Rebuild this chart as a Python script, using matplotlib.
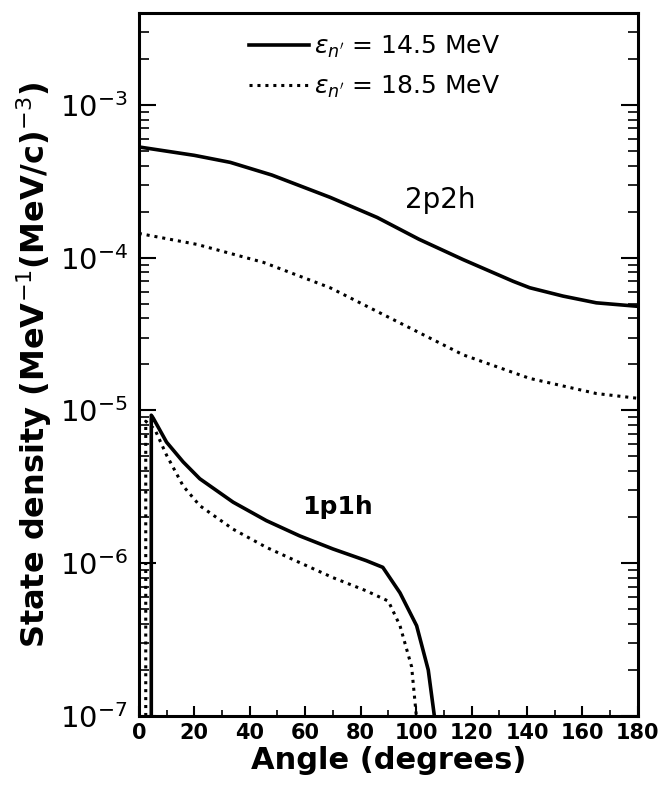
import numpy as np
import matplotlib
matplotlib.use("Agg")
import matplotlib.pyplot as plt
from matplotlib.ticker import LogLocator, LogFormatterMathtext, MultipleLocator, NullFormatter

# 2p2h curves (angle in degrees, state density)
ang_2p2h_a = [0, 20, 33, 48, 69, 86, 101, 117, 135, 141, 153, 165, 180]
rho_2p2h_a = [5.3e-4, 4.67e-4, 4.2e-4, 3.47e-4, 2.48e-4, 1.83e-4, 1.32e-4,
              9.7e-5, 7.0e-5, 6.35e-5, 5.6e-5, 5.06e-5, 4.8e-5]
ang_2p2h_b = [0, 21, 45, 69, 93, 117, 141, 165, 180]
rho_2p2h_b = [1.44e-4, 1.22e-4, 9.3e-5, 6.35e-5, 3.83e-5, 2.31e-5, 1.62e-5,
              1.29e-5, 1.2e-5]

# 1p1h curves
ang_1p1h_a = [4.5, 4.5, 5.2, 10, 16, 22, 34, 46, 58, 70, 82, 88, 94.2, 100.2, 104.4, 106.6]
rho_1p1h_a = [1e-7, 9.3e-6, 8.9e-6, 6.2e-6, 4.6e-6, 3.57e-6, 2.51e-6, 1.9e-6,
              1.51e-6, 1.24e-6, 1.04e-6, 9.4e-7, 6.4e-7, 3.9e-7, 2.0e-7, 1e-7]
ang_1p1h_b = [2.5, 2.5, 5.8, 10, 16, 22, 34, 46, 58, 70, 82, 90, 94.2, 98.4, 100.1]
rho_1p1h_b = [1e-7, 8.5e-6, 7.5e-6, 5.1e-6, 3.2e-6, 2.38e-6, 1.67e-6, 1.27e-6,
              1.01e-6, 8.05e-7, 6.6e-7, 5.65e-7, 3.9e-7, 2.1e-7, 1e-7]

labels = [r"$\varepsilon_{n^{\prime}}$ = 14.5 MeV", r"$\varepsilon_{n^{\prime}}$ = 18.5 MeV"]

fig = plt.figure(figsize=(6.61, 7.91), dpi=100)
ax = fig.add_axes([0.210, 0.0948, 0.755, 0.889])

dot = (0, (1, 1.6))
l1, = ax.plot(ang_2p2h_a, rho_2p2h_a, color="black", lw=2.6)
ax.plot(ang_1p1h_a, rho_1p1h_a, color="black", lw=2.6)
l2, = ax.plot(ang_2p2h_b, rho_2p2h_b, color="black", lw=2.2, ls=dot)
ax.plot(ang_1p1h_b, rho_1p1h_b, color="black", lw=2.2, ls=dot)

ax.set_yscale("log")
ax.set_xlim(0, 180)
ax.set_ylim(1e-7, 4e-3)

ax.xaxis.set_major_locator(MultipleLocator(20))
ax.xaxis.set_minor_locator(MultipleLocator(10))
ax.yaxis.set_major_locator(LogLocator(base=10, numticks=20))
ax.yaxis.set_minor_locator(LogLocator(base=10, subs=np.arange(2, 10), numticks=20))
ax.yaxis.set_major_formatter(LogFormatterMathtext())
ax.yaxis.set_minor_formatter(NullFormatter())

ax.tick_params(axis="x", which="major", direction="in", length=7, width=1.5,
               labelsize=15, pad=5, top=False)
ax.tick_params(axis="x", which="minor", direction="in", length=4, width=1.2, top=False)
ax.tick_params(axis="y", which="major", direction="in", length=12, width=1.5,
               labelsize=21, right=True, pad=8)
ax.tick_params(axis="y", which="minor", direction="in", length=7, width=1.2, right=True)
for lab in ax.get_xticklabels():
    lab.set_fontweight("bold")

for s in ax.spines.values():
    s.set_linewidth(2.2)

ax.set_xlabel("Angle (degrees)", fontsize=22, fontweight="bold", labelpad=2)
ax.set_ylabel(r"State density (MeV$^{-1}$(MeV/c)$^{-3}$)", fontsize=23,
              fontweight="bold", labelpad=4)

ax.text(108.6, 2.4e-4, "2p2h", fontsize=20, ha="center", va="center")
ax.text(71.8, 2.33e-6, "1p1h", fontsize=18, fontweight="bold", ha="center", va="center")

leg = ax.legend([l1, l2], labels, loc="upper left", bbox_to_anchor=(0.2, 0.985),
                frameon=False, fontsize=18, handlelength=2.4, handletextpad=0.2,
                labelspacing=0.55, borderaxespad=0)

fig.savefig("out.png", dpi=100)
